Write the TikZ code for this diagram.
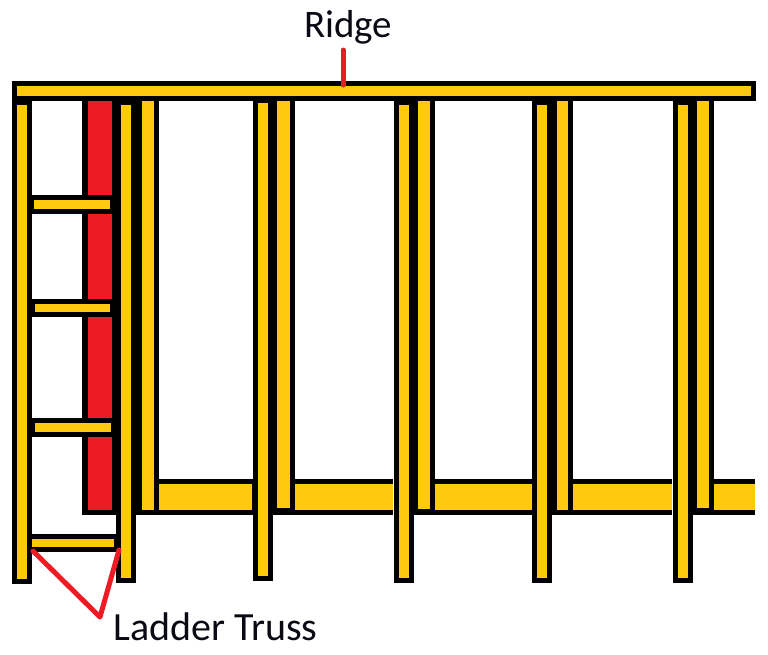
\documentclass[tikz,border=0pt]{standalone}
\usepackage{fontspec}
\setmainfont{Carlito}
\definecolor{pine}{HTML}{FFC90E}
\definecolor{mark}{HTML}{ED1C24}
\definecolor{labelink}{HTML}{0A0A14}
\tikzset{
  ink/.style={fill=black},
  timber/.style={fill=pine},
  brick/.style={fill=mark},
  leader/.style={draw=mark,line width=5pt,line cap=round,line join=round},
  lbl/.style={text=labelink,inner sep=0pt,anchor=base west}
}
\begin{document}
\begin{tikzpicture}[x=1pt,y=-1pt]
\useasboundingbox (0,0) rectangle (768,654);
% plate sill, black then yellow sections
\fill[ink] (137,479) rectangle (755,515);
\foreach \a/\b in {159/252,295/393,435/532,573/672,714/755}
  \fill[timber] (\a,484) rectangle (\b,510);
% white slits beside posts
\fill[white] (393,479) rectangle (394,515);
\fill[white] (672,479) rectangle (673,515);
% red strip with black frame
\fill[ink] (82,98) rectangle (137,515);
\fill[brick] (88,98) rectangle (112,510);
% studs attached to the ridge
\fill[ink] (137,98) rectangle (159,515);
\fill[timber] (142,98) rectangle (154,510);
\foreach \a/\b/\c/\d/\e in {273/277/290/295/508,414/418/430/435/509,552/557/568/573/510,693/697/709/714/508}{
  \fill[ink] (\a,98) rectangle (\d,\e+5);
  \fill[timber] (\c,98) rectangle (\b,\e);
}
% ladder and jack posts
\foreach \a/\t/\e in {12/105/584,116/105/583,253/103/581,394/105/583,532/105/583,673/105/583}{
  \fill[ink] (\a,98) rectangle (\a+20,\e);
  \fill[timber] (\a+5,\t) rectangle (\a+15,\e-5);
}
% ladder rungs
\foreach \t/\b/\yt/\yb/\xl/\xr in {195/214/200/209/34/110,299/317/304/312/35/110,418/437/423/432/35/111,534/552/539/547/32/114}{
  \fill[ink] (32,\t) rectangle (116,\b);
  \fill[timber] (\xl,\yt) rectangle (\xr,\yb);
}
% ridge
\fill[ink] (12,81) rectangle (756,101);
\fill[timber] (17,86) rectangle (751,96);
% labels
\node[lbl,font=\fontsize{39}{44}\selectfont] (ridge) at (304,37) {Ridge};
\node[lbl,font=\fontsize{40}{44}\selectfont] (ladder) at (113,640) {Ladder Truss};
% leaders
\coordinate (ridgetop) at (343,50);
\coordinate (ridgehit) at (343,85);
\coordinate (railL) at (33,551);
\coordinate (vertex) at (100,617);
\coordinate (railR) at (119,550);
\draw[leader] (ridgetop) -- (ridgehit);
\draw[leader] (railL) -- (vertex) -- (railR);
\end{tikzpicture}
\end{document}
